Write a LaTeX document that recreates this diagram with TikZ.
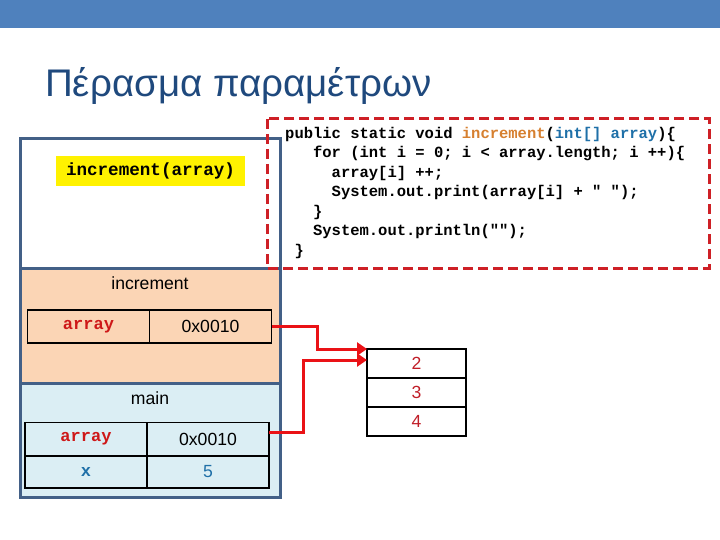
\documentclass[tikz,border=0pt]{standalone}
\usepackage{fontspec}
\setmainfont{Liberation Sans}
\newfontfamily\codefont{Liberation Mono}
\usetikzlibrary{arrows.meta}

\definecolor{barblue}{RGB}{79,129,189}
\definecolor{titleblue}{RGB}{31,73,125}
\definecolor{framecol}{RGB}{67,96,135}
\definecolor{peach}{RGB}{251,213,181}
\definecolor{paleblue}{RGB}{219,238,244}
\definecolor{dashred}{RGB}{206,32,38}
\definecolor{ptrred}{RGB}{234,18,22}
\definecolor{numred}{RGB}{192,30,40}
\definecolor{varred}{RGB}{206,24,24}
\definecolor{varblue}{RGB}{31,112,168}
\definecolor{kworange}{RGB}{214,128,48}

\tikzset{
  frame/.style={draw=framecol, line width=3pt},
  cell/.style={draw=black, line width=1.5pt, minimum width=122pt, minimum height=33pt, inner sep=0pt, outer sep=0pt},
  heapcell/.style={draw=black, line width=1.5pt, minimum width=99pt, minimum height=29pt, inner sep=0pt, outer sep=0pt, text=numred, font=\fontsize{17.6}{20}\selectfont},
  varname/.style={font=\codefont\bfseries\fontsize{17}{20}\selectfont},
  numtext/.style={font=\fontsize{17.6}{20}\selectfont},
  ptr/.style={draw=ptrred, line width=3pt, -{Triangle[length=10pt,width=13pt]}},
}

\begin{document}
\begin{tikzpicture}[x=1pt, y=-1pt]
        \useasboundingbox (0,0) rectangle (720,540);

        % Title
        \fill[barblue] (0,0) rectangle (720,28);
        \node[anchor=base west, inner sep=0pt, text=titleblue, font=\fontsize{38.5}{46}\selectfont] (title) at (45,97) {Πέρασμα παραμέτρων};

        % Stack
        \fill[white] (20,139) rectangle (280,268);
        \fill[peach] (20,268) rectangle (280,383);
        \fill[paleblue] (20,383) rectangle (280,497);
        \draw[frame] (20,139) rectangle (280,497);
        \draw[frame] (20,268) -- (280,268);
        \draw[frame] (20,383) -- (280,383);
        \node[fill=yellow, minimum width=189pt, minimum height=30pt, inner sep=0pt, font=\codefont\bfseries\fontsize{17.6}{20}\selectfont] (call) at (150.5,171) {increment(array)};

        % Code
        \draw[dashred, line width=3pt, dash pattern=on 10pt off 5pt] (267,119) rectangle (709,268);
        \node[anchor=north west, inner sep=0pt, align=left, font=\codefont\bfseries\fontsize{15.5}{19.5}\selectfont] (code) at (285,127)
          {public static void \textcolor{kworange}{increment}(\textcolor{varblue}{int[] array})\{\\
           \hspace*{1.8em}for (int i = 0; i < array.length; i ++)\{\\
           \hspace*{3em}array[i] ++;\\
           \hspace*{3em}System.out.print(array[i] + " ");\\
           \hspace*{1.8em}\}\\
           \hspace*{1.8em}System.out.println("");\\
           \hspace*{0.6em}\}};

        % Frame increment
        \node[numtext] (inclabel) at (150,283) {increment};
        \node[cell, varname, text=varred] (incname) at (88.5,326.5) {array};
        \node[cell, numtext] (incval) at (210.5,326.5) {0x0010};

        % Frame main
        \node[numtext] (mainlabel) at (150,398) {main};
        \node[cell, varname, text=varred] (mainname) at (86,439) {array};
        \node[cell, numtext] (mainval) at (208,439) {0x0010};
        \node[cell, varname, text=varblue, minimum height=32pt] (xname) at (86,472) {x};
        \node[cell, numtext, text=varblue, minimum height=32pt] (xval) at (208,472) {5};

        % Heap
        \node[heapcell] (h2) at (416.5,363.5) {2};
        \node[heapcell] (h3) at (416.5,392.5) {3};
        \node[heapcell] (h4) at (416.5,421.5) {4};

        % References
        \draw[ptr] (incval.east) -- ++(46,0) |- (h2.north west);
        \draw[ptr] ([yshift=7pt]mainval.east) -- ++(34,0) |- ([yshift=-11pt]h2.north west);
\end{tikzpicture}
\end{document}
